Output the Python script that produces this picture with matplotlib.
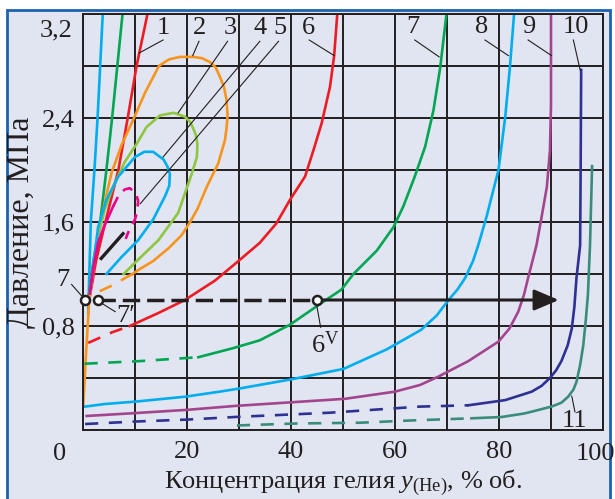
import matplotlib
matplotlib.use("Agg")
import matplotlib.pyplot as plt
from matplotlib.patches import Rectangle

plt.rcParams['font.family'] = ['Liberation Serif', 'DejaVu Serif']
plt.rcParams['mathtext.fontset'] = 'custom'
plt.rcParams['mathtext.rm'] = 'Liberation Serif'
plt.rcParams['mathtext.it'] = 'Liberation Serif:italic'

# --- curve data: helium concentration (% vol.) vs pressure (MPa) ---
steep_cyan_x = [1.0, 1.5, 2.2, 2.8, 3.3, 3.8]
steep_cyan_y = [0.9, 1.6, 2.0, 2.4, 2.8, 3.2]
steep_green_x = [1.0, 2.0, 3.3, 4.5, 5.6, 6.6, 7.6]
steep_green_y = [1.0, 1.3, 1.6, 2.0, 2.4, 2.8, 3.2]

c1_x = [1.2, 2.5, 4.3, 6.8, 8.6, 10.3, 12.4]
c1_y = [1.0, 1.3, 1.6, 2.0, 2.4, 2.8, 3.2]

c2_x = [0.05, 0.6, 1.2, 2.5, 4.0, 5.5, 7.5, 9.8, 12.0, 14.6, 16.5, 18.6, 21.2,
        22.9, 24.4, 25.5, 26.3, 27.1, 27.6, 27.8, 27.6, 27.3, 26.0, 23.8, 22.0,
        20.6, 19.0, 16.5, 13.5, 11.0, 9.5]
c2_y = [0.19, 0.6, 1.0, 1.4, 1.72, 1.98, 2.2, 2.4, 2.6, 2.8, 2.85, 2.87, 2.87,
        2.86, 2.83, 2.79, 2.72, 2.64, 2.54, 2.42, 2.32, 2.23, 2.05, 1.87, 1.7,
        1.6, 1.5, 1.4, 1.3, 1.24, 1.2]
c2_dash_x = [9.5, 5.5, 1.7]
c2_dash_y = [1.2, 1.11, 1.04]

c3_x = [1.3, 2.6, 4.2, 5.8, 8.0, 10.3, 12.2, 14.8, 17.4, 19.6, 20.6, 21.2,
        21.7, 22.0, 21.9, 20.9, 18.3, 14.5, 10.6, 7.8]
c3_y = [1.05, 1.44, 1.7, 1.87, 2.06, 2.2, 2.33, 2.42, 2.44, 2.41, 2.37, 2.32,
        2.27, 2.2, 2.1, 1.97, 1.67, 1.46, 1.31, 1.2]

c4_x = [1.3, 2.9, 4.5, 6.8, 10.0, 11.8, 13.5, 15.5, 16.2, 16.7, 16.6, 15.8,
        13.5, 10.6, 7.4, 4.5]
c4_y = [1.05, 1.56, 1.77, 1.95, 2.1, 2.14, 2.14, 2.08, 2.03, 1.97, 1.88, 1.8,
        1.62, 1.46, 1.33, 1.2]

c5_x = [1.3, 2.0, 2.9, 4.0, 4.9, 5.8]
c5_y = [1.05, 1.25, 1.44, 1.56, 1.64, 1.72]
c5_dash_x = [5.8, 6.8, 8.0, 9.0, 10.2, 10.6, 10.4, 10.0, 8.7, 8.2]
c5_dash_y = [1.72, 1.8, 1.85, 1.86, 1.82, 1.76, 1.68, 1.62, 1.52, 1.47]

black_seg_x = [3.5, 7.7]
black_seg_y = [1.32, 1.51]

c6_dash_x = [1.0, 5.5, 9.0]
c6_dash_y = [0.67, 0.75, 0.8]
c6_x = [9.0, 14.5, 19.6, 25.4, 29.6, 34.0, 37.2, 39.8, 42.7, 44.3, 45.9,
        47.5, 48.3, 48.9]
c6_y = [0.8, 0.9, 1.0, 1.15, 1.29, 1.44, 1.59, 1.77, 1.95, 2.15, 2.36,
        2.64, 2.88, 3.2]

c7_dash_x = [0.3, 11.0, 22.2]
c7_dash_y = [0.51, 0.53, 0.56]
c7_x = [22.2, 28.9, 34.0, 39.8, 45.6, 49.7, 52.0, 54.5, 56.5, 59.7, 61.6,
        63.8, 65.8, 67.4, 68.7, 69.9]
c7_y = [0.56, 0.63, 0.69, 0.81, 0.97, 1.08, 1.2, 1.3, 1.38, 1.56, 1.72,
        1.95, 2.18, 2.46, 2.79, 3.2]

c8_x = [0.4, 4.2, 10.0, 19.6, 26.3, 30.2, 40.1, 50.1, 58.4, 65.0, 68.0, 70.3,
        72.0, 73.5, 75.0, 76.0, 77.6, 79.9, 81.2, 82.1, 82.9]
c8_y = [0.18, 0.2, 0.218, 0.256, 0.295, 0.32, 0.39, 0.47, 0.62, 0.77, 0.88,
        1.0, 1.08, 1.17, 1.3, 1.42, 1.64, 2.0, 2.41, 2.79, 3.2]

c9_x = [0.7, 10.0, 20.0, 29.2, 42.7, 50.4, 60.0, 64.8, 68.3, 74.1, 79.9,
        82.0, 83.7, 84.8, 85.6, 87.2, 88.2, 89.2, 89.8, 90.0, 90.0]
c9_y = [0.108, 0.13, 0.155, 0.185, 0.22, 0.24, 0.295, 0.346, 0.41, 0.53,
        0.68, 0.78, 0.91, 1.04, 1.17, 1.42, 1.64, 1.87, 2.15, 2.5, 3.2]

c10_dash_x = [0.4, 10.0, 20.0, 29.2, 47.5, 64.8, 74.1]
c10_dash_y = [0.046, 0.065, 0.08, 0.1, 0.133, 0.18, 0.19]
c10_x = [74.1, 81.2, 86.3, 88.2, 89.8, 91.0, 92.0, 93.2, 94.0, 94.5, 94.9,
         95.6, 95.7, 95.8]
c10_y = [0.19, 0.23, 0.295, 0.34, 0.4, 0.46, 0.53, 0.65, 0.78, 0.95, 1.17,
         1.42, 2.0, 2.77]

c11_dash_x = [29.6, 41.1, 53.3, 62.2, 74.7]
c11_dash_y = [0.035, 0.05, 0.056, 0.072, 0.09]
c11_x = [74.7, 80.5, 85.0, 90.1, 92.0, 93.3, 94.3, 94.9, 95.6, 96.2, 96.7,
         97.1, 97.5, 97.9]
c11_y = [0.09, 0.1, 0.128, 0.18, 0.21, 0.256, 0.31, 0.37, 0.5, 0.65, 0.85,
         1.04, 1.42, 2.03]

# curve numbers and leader lines: (text, label x, label y, leader from, leader to)
labels = [
    ('1', 15.5, 3.09, (15.4, 3.0), (10.8, 2.9)),
    ('2', 22.5, 3.09, (22.3, 2.99), (21.1, 2.88)),
    ('3', 28.3, 3.09, (27.8, 2.99), (18.3, 2.44)),
    ('4', 34.0, 3.09, (34.0, 2.99), (15.4, 2.1)),
    ('5', 37.8, 3.09, (37.6, 2.99), (11.0, 1.74)),
    ('6', 43.3, 3.09, (43.5, 3.0), (48.3, 2.88)),
    ('7', 63.5, 3.1, (63.8, 3.0), (68.5, 2.87)),
    ('8', 76.7, 3.1, (77.3, 3.0), (81.8, 2.88)),
    ('9', 85.8, 3.1, (85.6, 3.0), (90.1, 2.88)),
    ('10', 94.7, 3.1, (94.3, 3.0), (95.6, 2.77)),
    ('11', 94.6, 0.07, (94.0, 0.26), (94.6, 0.14)),
]

# process path at 1 MPa: points 7, 7' and 6V
path_x = [0.4, 2.8, 45.0]
path_p = 1.0
arrow_end = 91.5

xtick_pos = list(range(0, 101, 10))
xtick_lab = ['', '', '20', '', '40', '', '60', '', '80', '', '']
ytick_pos = [0.4 * i for i in range(9)]
ytick_lab = ['', '', '0,8', '', '1,6', '', '2,4', '', '']

bg = '#E1E5F1'
ink = '#231F20'
RED, ORANGE, LIME, CYAN = '#ED1C24', '#F7941D', '#8DC63F', '#00AEEF'
GREEN, PINK, PURPLE = '#00A651', '#EC008C', '#A3458E'
NAVY, TEAL = '#2E3192', '#3A8C7A'

fig = plt.figure(figsize=(6.15, 4.99), dpi=100, facecolor='white')
fig.patches.append(Rectangle((7 / 615, -0.05), 603 / 615, 1 - 10 / 499 + 0.05,
                             transform=fig.transFigure, facecolor=bg,
                             edgecolor='#1C62AE', linewidth=2, zorder=-1))
ax = fig.add_axes([83 / 615, 69 / 499, 520 / 615, 416 / 499])
ax.set_facecolor(bg)
ax.set_xlim(0, 100)
ax.set_ylim(0, 3.2)

ax.set_xticks(xtick_pos)
ax.set_xticklabels(xtick_lab)
ax.set_yticks(ytick_pos)
ax.set_yticklabels(ytick_lab)
ax.tick_params(length=0, labelsize=19, colors=ink)
ax.tick_params(axis='x', pad=8)
ax.tick_params(axis='y', pad=6)
ax.grid(True, color=ink, linewidth=1.4)
ax.set_axisbelow(True)
for sp in ax.spines.values():
    sp.set_color(ink)
    sp.set_linewidth(1.4)

ax.text(-4.5, -0.1, '0', fontsize=19, ha='center', va='top', color=ink, clip_on=False)
ax.text(98.5, -0.1, '100', fontsize=19, ha='center', va='top', color=ink, clip_on=False)
ax.text(-2.1, 3.07, '3,2', fontsize=19, ha='right', va='center', color=ink, clip_on=False)

ax.set_xlabel('Концентрация гелия $y_{\\mathrm{(He)}}$, % об.', fontsize=19,
              color=ink, labelpad=3)
ax.set_ylabel('Давление, МПа', fontsize=23, color=ink, labelpad=4)

lw = 1.9
dash = (5, 4)
ax.plot(steep_cyan_x, steep_cyan_y, color=CYAN, lw=lw)
ax.plot(steep_green_x, steep_green_y, color=GREEN, lw=lw)
ax.plot(c1_x, c1_y, color=RED, lw=lw)
ax.plot(c2_x, c2_y, color=ORANGE, lw=lw)
ax.plot(c2_dash_x, c2_dash_y, color=ORANGE, lw=lw, dashes=dash)
ax.plot(c3_x, c3_y, color=LIME, lw=lw)
ax.plot(c4_x, c4_y, color=CYAN, lw=lw)
ax.plot(c5_x, c5_y, color=PINK, lw=lw)
ax.plot(c5_dash_x, c5_dash_y, color=PINK, lw=lw, dashes=(4, 3))
ax.plot(black_seg_x, black_seg_y, color=ink, lw=2.4)
ax.plot(c6_x, c6_y, color=RED, lw=lw)
ax.plot(c6_dash_x, c6_dash_y, color=RED, lw=lw, dashes=dash)
ax.plot(c7_x, c7_y, color=GREEN, lw=lw)
ax.plot(c7_dash_x, c7_dash_y, color=GREEN, lw=lw, dashes=dash)
ax.plot(c8_x, c8_y, color=CYAN, lw=lw)
ax.plot(c9_x, c9_y, color=PURPLE, lw=lw)
ax.plot(c10_x, c10_y, color=NAVY, lw=lw)
ax.plot(c10_dash_x, c10_dash_y, color=NAVY, lw=lw, dashes=dash)
ax.plot(c11_x, c11_y, color=TEAL, lw=lw)
ax.plot(c11_dash_x, c11_dash_y, color=TEAL, lw=lw, dashes=dash)

# leader lines and curve numbers
for txt, tx, ty, p0, p1 in labels:
    ax.plot([p0[0], p1[0]], [p0[1], p1[1]], color=ink, lw=0.8)
    ax.text(tx, ty, txt, fontsize=19, ha='center', va='center', color=ink)

# process path: dashed to 6V, then solid arrow
ax.plot([path_x[1], path_x[2]], [path_p, path_p], color=ink, lw=2.5, dashes=(5, 2))
ax.annotate('', xy=(arrow_end, path_p), xytext=(path_x[2], path_p),
            arrowprops=dict(arrowstyle='-|>,head_length=0.75,head_width=0.32',
                            lw=2.2, color=ink, shrinkA=0, shrinkB=0,
                            mutation_scale=20))
ax.plot(path_x, [path_p] * 3, 'o', ms=6.5, mfc='white', mec=ink, mew=1.8,
        zorder=5, clip_on=False)

ax.plot([-2.2, 0.0], [1.12, 1.02], color=ink, lw=0.8, clip_on=False)
ax.text(-3.8, 1.15, '7', fontsize=19, ha='center', va='center', color=ink)
ax.plot([3.4, 6.2], [0.98, 0.91], color=ink, lw=0.8)
ax.text(8.3, 0.88, '7′', fontsize=19, ha='center', va='center', color=ink)
ax.plot([44.9, 45.7], [0.97, 0.79], color=ink, lw=0.8)
ax.text(46.5, 0.66, '6$^{\\mathrm{V}}$', fontsize=19, ha='center', va='center', color=ink)

fig.savefig('out.png', dpi=100, facecolor='white')
